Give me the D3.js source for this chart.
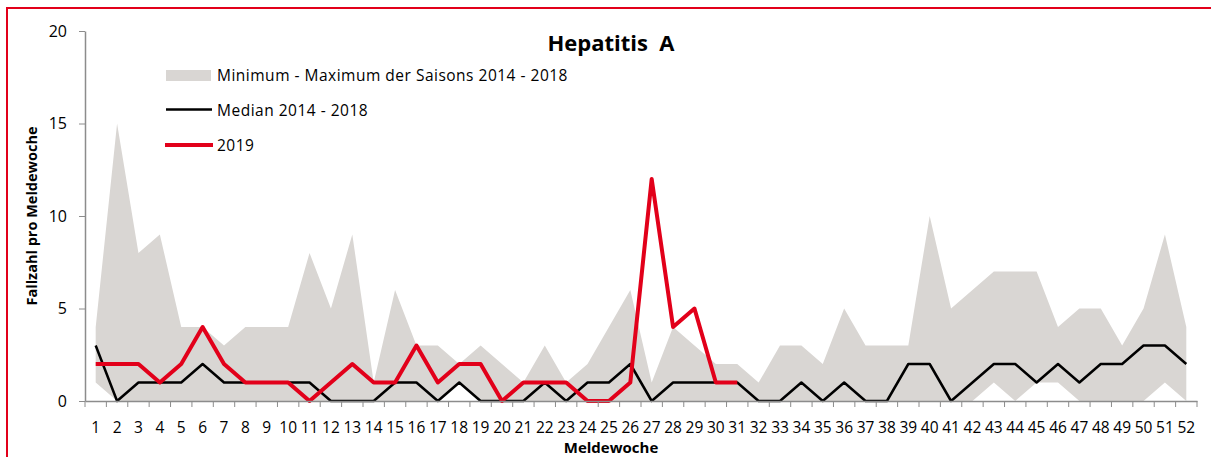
<!DOCTYPE html>
<html>
<head>
<meta charset="utf-8">
<script src="https://cdn.jsdelivr.net/npm/d3@7"></script>
<style>
  body { margin: 0; background: #fff; }
  text { font-family: "Open Sans", Lato, sans-serif; fill: #000; }
</style>
</head>
<body>
<svg id="chart"></svg>
<script>
var width = 1211
var height = 457

// Meldewochen 1-52
var weeks = d3.range(1, 53)

// Maximum der Saisons 2014 - 2018
var maxValues = [4, 15, 8, 9, 4, 4, 3, 4, 4, 4, 8, 5, 9, 1, 6, 3, 3, 2, 3, 2,
  1, 3, 1, 2, 4, 6, 1, 4, 3, 2, 2, 1, 3, 3, 2, 5, 3, 3, 3, 10,
  5, 6, 7, 7, 7, 4, 5, 5, 3, 5, 9, 4]

// Minimum der Saisons 2014 - 2018
var minValues = [1, 0, 0, 0, 0, 0, 0, 0, 0, 0, 0, 0, 0, 0, 0, 0, 0, 1, 0, 0,
  0, 0, 0, 0, 0, 0, 0, 0, 0, 0, 0, 0, 0, 0, 0, 0, 0, 0, 0, 0,
  0, 0, 1, 0, 1, 1, 0, 0, 0, 0, 1, 0]

// Median 2014 - 2018
var medianValues = [3, 0, 1, 1, 1, 2, 1, 1, 1, 1, 1, 0, 0, 0, 1, 1, 0, 1, 0, 0,
  0, 1, 0, 1, 1, 2, 0, 1, 1, 1, 1, 0, 0, 1, 0, 1, 0, 0, 2, 2,
  0, 1, 2, 2, 1, 2, 1, 2, 2, 3, 3, 2]

// 2019 (bis Woche 31)
var values2019 = [2, 2, 2, 1, 2, 4, 2, 1, 1, 1, 0, 1, 2, 1, 1, 3, 1, 2, 2, 0,
  1, 1, 1, 0, 0, 1, 12, 4, 5, 1, 1]

var yTicks = [0, 5, 10, 15, 20]

var legendLabels = ["Minimum - Maximum der Saisons 2014 - 2018", "Median 2014 - 2018", "2019"]

var red = "#e2001a"
var grey = "#d9d6d3"
var axisGrey = "#8c8c8c"

var svg = d3.select("#chart")
  .attr("width", width)
  .attr("height", height)

// roter Rahmen
svg.append("rect")
  .attr("x", 7)
  .attr("y", 8)
  .attr("width", width + 20)
  .attr("height", height + 20)
  .attr("fill", "none")
  .attr("stroke", red)
  .attr("stroke-width", 2)

var x = d3.scaleBand()
  .domain(weeks)
  .range([85, 1197])
  .padding(0)

var y = d3.scaleLinear()
  .domain([0, 20])
  .range([401, 31])

function cx(w) { return x(w) + x.bandwidth() / 2 }

var band = weeks.map(function(w, i) {
  return { week: w, lo: minValues[i], hi: maxValues[i] }
})

var area = d3.area()
  .x(function(d) { return cx(d.week) })
  .y0(function(d) { return y(d.lo) })
  .y1(function(d) { return y(d.hi) })

svg.append("path")
  .datum(band)
  .attr("d", area)
  .attr("fill", grey)

var line = d3.line()
  .x(function(d) { return cx(d.week) })
  .y(function(d) { return y(d.value) })

svg.append("path")
  .datum(weeks.map(function(w, i) { return { week: w, value: medianValues[i] } }))
  .attr("d", line)
  .attr("fill", "none")
  .attr("stroke", "#000")
  .attr("stroke-width", 2.5)
  .attr("stroke-linejoin", "round")

svg.append("path")
  .datum(values2019.map(function(v, i) { return { week: weeks[i], value: v } }))
  .attr("d", line)
  .attr("fill", "none")
  .attr("stroke", red)
  .attr("stroke-width", 4)
  .attr("stroke-linejoin", "round")

// y-Achse
var yAxis = svg.append("g")
  .attr("transform", "translate(85,0)")
  .call(d3.axisLeft(y).tickValues(yTicks).tickSize(6).tickPadding(12).tickSizeOuter(0))
yAxis.select(".domain").attr("stroke", axisGrey).attr("stroke-width", 1.5)
yAxis.selectAll(".tick line").attr("stroke", axisGrey)
yAxis.selectAll("text").style("font-size", "16px").attr("fill", "#000")

// x-Achse
var xAxis = svg.append("g")
  .attr("transform", "translate(0,401)")
  .call(d3.axisBottom(x).tickSize(0).tickPadding(21).tickSizeOuter(0))
xAxis.select(".domain").attr("stroke", axisGrey).attr("stroke-width", 1.5)
xAxis.selectAll("text").style("font-size", "15.5px").attr("fill", "#000")

// Teilstriche zwischen den Wochen
svg.append("g")
  .selectAll("line")
  .data(weeks.concat([53]))
  .join("line")
  .attr("x1", function(d) { return d <= 52 ? x(d) : x(52) + x.bandwidth() })
  .attr("x2", function(d) { return d <= 52 ? x(d) : x(52) + x.bandwidth() })
  .attr("y1", 401)
  .attr("y2", 407)
  .attr("stroke", axisGrey)

// Titel
svg.append("text")
  .attr("x", 611)
  .attr("y", 51)
  .attr("text-anchor", "middle")
  .style("font-size", "22px")
  .style("font-weight", "bold")
  .style("white-space", "pre")
  .text("Hepatitis  A")

svg.append("text")
  .attr("x", 611)
  .attr("y", 453)
  .attr("text-anchor", "middle")
  .style("font-size", "15px")
  .style("font-weight", "bold")
  .text("Meldewoche")

svg.append("text")
  .attr("transform", "translate(37,216) rotate(-90)")
  .attr("text-anchor", "middle")
  .style("font-size", "14.5px")
  .style("font-weight", "bold")
  .text("Fallzahl pro Meldewoche")

// Legende
var legend = svg.append("g")

legend.append("rect")
  .attr("x", 166)
  .attr("y", 70)
  .attr("width", 45)
  .attr("height", 11)
  .attr("fill", grey)

legend.append("line")
  .attr("x1", 166).attr("x2", 212)
  .attr("y1", 109.5).attr("y2", 109.5)
  .attr("stroke", "#000")
  .attr("stroke-width", 2.5)

legend.append("line")
  .attr("x1", 165).attr("x2", 213)
  .attr("y1", 145).attr("y2", 145)
  .attr("stroke", red)
  .attr("stroke-width", 4)

legend.selectAll("text.leg")
  .data(legendLabels)
  .join("text")
  .attr("class", "leg")
  .attr("x", 217)
  .attr("y", function(d, i) { return 81 + i * 35 })
  .style("font-size", "15.5px")
  .style("letter-spacing", "0.5px")
  .text(function(d) { return d })
</script>
</body>
</html>
